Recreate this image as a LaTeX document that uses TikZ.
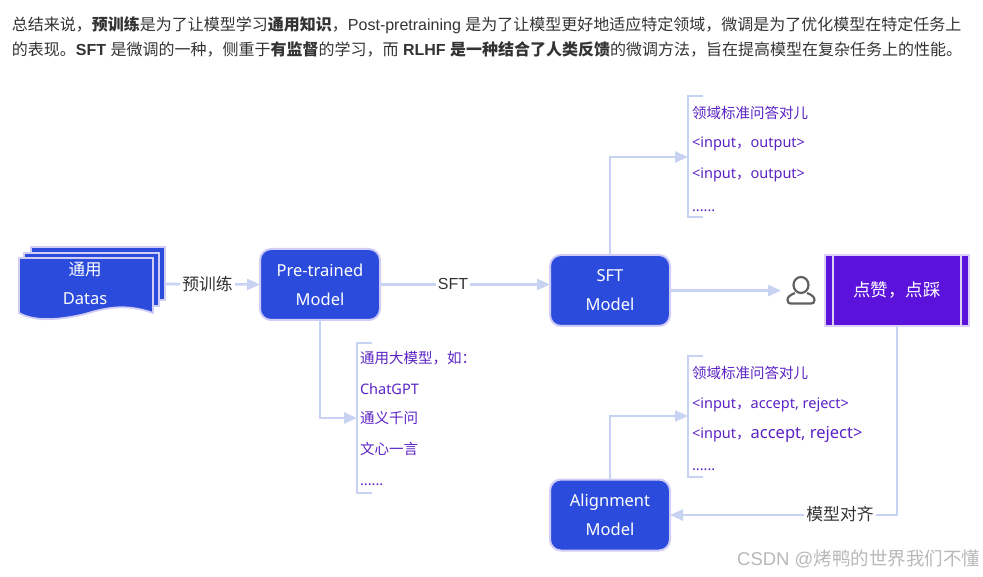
\documentclass[tikz,border=0pt]{standalone}
\usepackage{fontspec}
\setmainfont{Liberation Sans}
\newfontfamily\cjk{Noto Sans CJK SC}
\newfontfamily\uifont{Noto Sans}
\newcommand{\C}[1]{{\cjk #1}}
\usetikzlibrary{arrows.meta}
\definecolor{boxblue}{HTML}{2B4BDD}
\definecolor{boxedge}{HTML}{CFCDF6}
\definecolor{linec}{HTML}{C8D2F3}
\definecolor{violet1}{HTML}{5B13DB}
\definecolor{edgev}{HTML}{DCD0F8}
\definecolor{purpletxt}{HTML}{5A22C4}
\definecolor{darktxt}{HTML}{333333}
\tikzset{
  x=1pt,y=-1pt,
  every node/.style={inner sep=0pt,outer sep=0pt},
  bluebox/.style={draw=boxedge,line width=2pt,fill=boxblue,rounded corners=11pt,text=white,align=center,font=\uifont\fontsize{16.5}{29}\selectfont,minimum width=120pt,minimum height=71pt},
  sheet/.style={draw=boxedge,line width=1.8pt,fill=boxblue},
  conn/.style={draw=linec,line width=2.6pt},
  arr/.style={conn,-{Triangle[length=13pt,width=11pt,color=linec]}},
  brk/.style={draw=linec,line width=2.6pt},
  itemtxt/.style={anchor=base west,text=purpletxt,font=\uifont\fontsize{14.5}{16}\selectfont},
  lbl/.style={fill=white,text=darktxt,inner xsep=2pt,inner ysep=1pt,font=\cjk\fontsize{16.8}{18}\selectfont},
  toptxt/.style={anchor=base west,text=darktxt,font=\fontsize{16}{18}\selectfont},
}
\begin{document}
\begin{tikzpicture}
\useasboundingbox (0,0) rectangle (983,577);
% top paragraph
\node[toptxt] (line1) at (12,30.5) {\C{总结来说，\textbf{预训练}是为了让模型学习\textbf{通用知识}，}Post-pretraining \C{是为了让模型更好地适应特定领域，微调是为了优化模型在特定任务上}};
\node[toptxt] (line2) at (12,55.5) {\C{的表现。}\textbf{SFT} \C{是微调的一种，侧重于\textbf{有监督}的学习，而} \textbf{RLHF \C{是一种结合了人类反馈}}\C{的微调方法，旨在提高模型在复杂任务上的性能。}};
% stacked document
\draw[sheet] (31,247) -- (165,247) -- (165,300) -- (31,300) -- cycle;
\draw[sheet] (24,253) -- (159,253) -- (159,306) -- (24,306) -- cycle;
\draw[sheet] (19,258) -- (153,258) -- (153,313) .. controls (125,303) and (105,308) .. (85,314) .. controls (60,320) and (35,322) .. (19,313) -- cycle;
\node[anchor=center,text=white,font=\cjk\fontsize{16.5}{18}\selectfont] (datas1) at (85,270) {通用};
\node[anchor=center,text=white,font=\uifont\fontsize{16.5}{18}\selectfont] (datas) at (85,299) {Datas};
\coordinate (datasout) at (165,284);
% boxes
\node[bluebox] (pre) at (320,284.5) {Pre-trained\\Model};
\node[bluebox] (sft) at (610,290.5) {SFT\\Model};
\node[bluebox] (align) at (610,515) {Alignment\\Model};
\node[draw=edgev,line width=2.5pt,fill=violet1,minimum width=144pt,minimum height=71pt,text=white,font=\cjk\fontsize{17.5}{18}\selectfont] (vote) at (897,290.5) {点赞，点踩};
\draw[edgev,line width=2pt] (833,255) -- (833,326) (961,255) -- (961,326);
% brackets
\coordinate (b1top) at (703,96); \coordinate (b1in) at (688,157); \coordinate (b1bot) at (703,217);
\coordinate (b2top) at (372,343); \coordinate (b2in) at (357,418); \coordinate (b2bot) at (372,493);
\coordinate (b3top) at (703,356); \coordinate (b3in) at (688,416); \coordinate (b3bot) at (703,477);
\draw[brk] (b1top) -| (b1in) |- (b1bot);
\draw[brk] (b2top) -| (b2in) |- (b2bot);
\draw[brk] (b3top) -| (b3in) |- (b3bot);
% person
\node[minimum width=29pt,minimum height=28pt] (person) at (801,290.5) {};
\coordinate (personin) at (781,290.5);
\draw[draw=black!62,line width=2.2pt] (801,285) ellipse (7.5pt and 8pt);
\draw[draw=black!62,line width=2.2pt,line join=round] (795,293) .. controls (790,295) and (787.5,297) .. (787.5,300) .. controls (787.5,303) and (789,303.5) .. (791,303.5) -- (811,303.5) .. controls (813,303.5) and (814.5,303) .. (814.5,300) .. controls (814.5,297) and (812,295) .. (807,293);
% connectors
\draw[arr] (datasout) -- (pre.west);
\node[lbl] (l1) at (207.5,284) {预训练};
\draw[arr] (pre.east) -- (pre.east -| sft.west);
\node[lbl,font=\fontsize{16}{18}\selectfont] (l2) at (453,284) {SFT};
\draw[arr] (sft.north) |- (b1in);
\draw[arr] (pre.south) |- (b2in);
\draw[arr] (sft.east) -- (personin);
\draw[arr] (align.north) |- (b3in);
\draw[arr] (vote.south) |- (align.east);
\node[lbl] (l3) at (840,514) {模型对齐};
% item texts
\node[itemtxt] (t1a) at (692,119) {\C{领域标准问答对儿}};
\node[itemtxt] (t1b) at (692,148) {<input\C{，}output>};
\node[itemtxt] (t1c) at (692,179) {<input\C{，}output>};
\node[itemtxt] (t1d) at (692,212) {......};
\node[itemtxt] (t2a) at (360,364) {\C{通用大模型，如：}};
\node[itemtxt] (t2b) at (360,395) {ChatGPT};
\node[itemtxt] (t2c) at (360,424) {\C{通义千问}};
\node[itemtxt] (t2d) at (360,454) {\C{文心一言}};
\node[itemtxt] (t2e) at (360,485) {......};
\node[itemtxt] (t3a) at (692,378) {\C{领域标准问答对儿}};
\node[itemtxt] (t3b) at (692,408) {<input\C{，}accept, reject>};
\node[itemtxt] (t3c) at (692,438) {<input\C{，}{\fontsize{16.5}{18}\selectfont accept, reject>}};
\node[itemtxt] (t3d) at (692,470) {......};
% watermark
\node[anchor=base east,text=black!28,font=\fontsize{18.5}{20}\selectfont] (wm) at (980,565) {CSDN @\C{烤鸭的世界我们不懂}};
\end{tikzpicture}
\end{document}
